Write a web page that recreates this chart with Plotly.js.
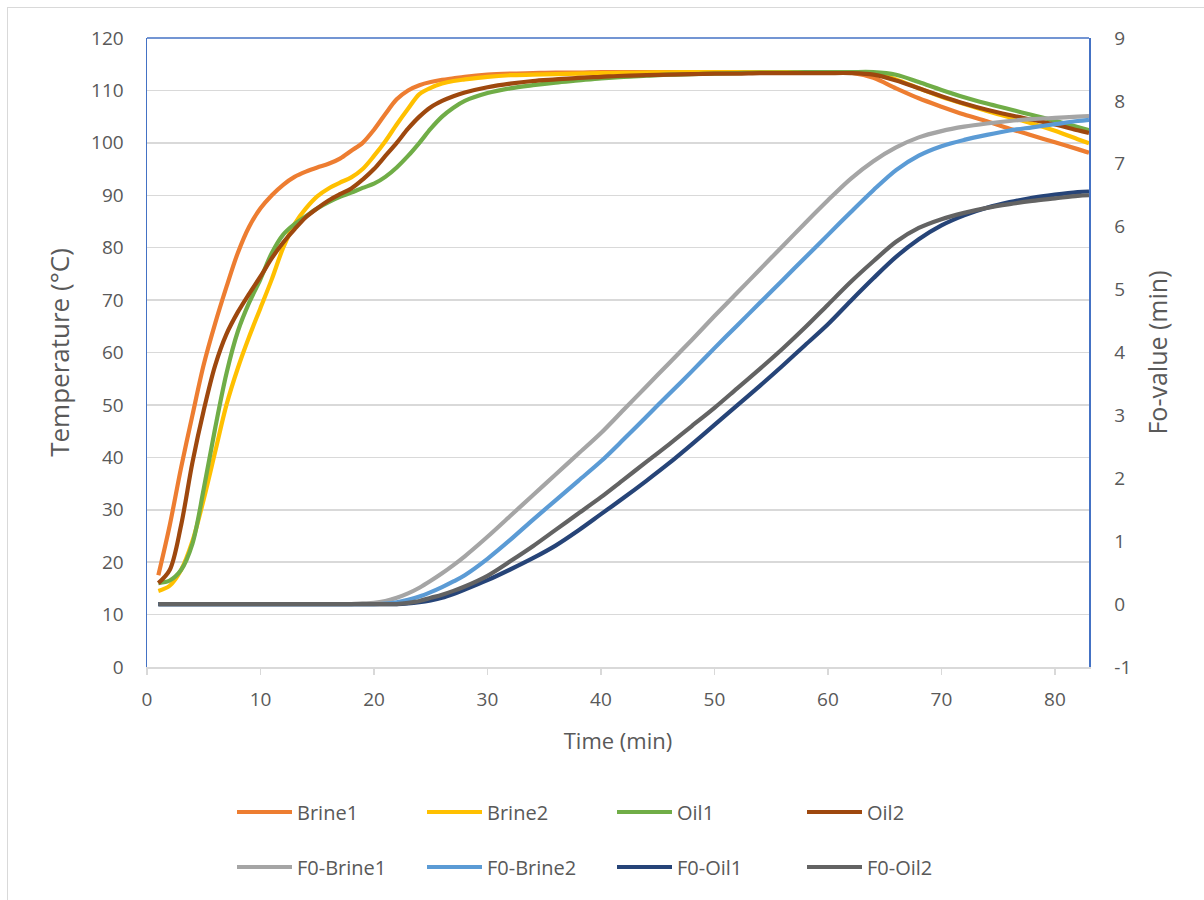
<!DOCTYPE html>
<html>
<head>
<meta charset="utf-8">
<script src="https://cdn.plot.ly/plotly-3.0.1.min.js"></script>
<style>
  html, body { margin: 0; padding: 0; background: #fff; overflow: hidden; }
  #chart { position: absolute; left: 0; top: 0; width: 1204px; height: 900px; }
  #frame { position: absolute; left: 7px; top: 7px; width: 1300px; height: 1000px;
           border-left: 1.5px solid #d9d9d9; border-top: 1.5px solid #d9d9d9; pointer-events: none; }
</style>
</head>
<body>
<div id="chart"></div>
<div id="frame"></div>
<script>
// Time (min)
const time = [1,2,3,4,5,6,7,8,9,10,11,12,13,14,15,16,17,18,19,20,21,22,23,24,25,26,27,28,
              30,32,34,36,38,40,42,44,46,48,50,52,54,56,58,60,62,64,66,68,70,72,74,76,78,80,82,83];

// Temperature (°C), left axis
const brine1 = [17.5,27,38,48,57.7,65.5,72.5,79,84,87.5,90,92,93.5,94.5,95.3,96,97,98.5,100,102.5,105.5,108.3,110,111,111.6,112,112.3,112.6,
                113.0,113.2,113.3,113.4,113.4,113.5,113.5,113.5,113.5,113.5,113.5,113.5,113.5,113.5,113.5,113.5,113.4,112.4,110.4,108.5,106.9,105.4,104.1,102.7,101.4,100.1,98.8,98.1];
const brine2 = [14.5,15.5,18.5,24,32,41,50,57,63,68.5,74,80,84.5,87.5,89.8,91.3,92.4,93.4,95,97.5,100.3,103.5,106.5,109.3,110.5,111.3,111.8,112.1,
                112.6,112.9,113.0,113.1,113.2,113.3,113.35,113.4,113.45,113.5,113.5,113.5,113.5,113.5,113.5,113.5,113.5,113.3,112.1,110.4,108.8,107.4,106.1,104.9,103.7,102.3,100.7,99.9];
const oil1   = [16,16.5,18.5,23.5,34,45.5,56,64,69.5,74,79,82.5,84.5,86,87.5,88.7,89.7,90.5,91.4,92.2,93.5,95.3,97.5,100,102.7,105,106.7,108,
                109.5,110.4,111.0,111.5,111.9,112.3,112.6,112.8,113.0,113.1,113.2,113.3,113.4,113.4,113.5,113.5,113.5,113.5,113.0,111.6,110.1,108.7,107.5,106.4,105.3,104.2,103.0,102.4];
const oil2   = [16,18.5,27,39,49,57.5,63.5,67.7,71.2,74.5,78,81,83.5,85.8,87.5,89,90.2,91.3,93,95,97.5,100,102.7,105,106.8,108,108.9,109.6,
                110.6,111.3,111.8,112.1,112.4,112.6,112.8,112.9,113.0,113.1,113.2,113.2,113.3,113.3,113.3,113.3,113.3,113.0,111.9,110.4,108.9,107.5,106.3,105.3,104.4,103.5,102.4,101.9];

// Fo-value (min), right axis
const f0Brine1 = [0,0,0,0,0,0,0,0,0,0,0,0,0,0,0,0,0,0,0.01,0.02,0.05,0.1,0.17,0.26,0.37,0.49,0.62,0.76,
                  1.07,1.4,1.73,2.06,2.39,2.72,3.09,3.46,3.83,4.2,4.58,4.95,5.32,5.69,6.06,6.42,6.76,7.04,7.26,7.42,7.52,7.59,7.64,7.68,7.71,7.73,7.75,7.76];
const f0Brine2 = [0,0,0,0,0,0,0,0,0,0,0,0,0,0,0,0,0,0,0,0,0.01,0.03,0.07,0.12,0.19,0.27,0.36,0.46,
                  0.72,1.02,1.34,1.65,1.96,2.27,2.62,2.98,3.34,3.7,4.07,4.43,4.79,5.15,5.51,5.87,6.23,6.58,6.9,7.13,7.28,7.38,7.46,7.53,7.58,7.63,7.68,7.7];
const f0Oil1   = [0,0,0,0,0,0,0,0,0,0,0,0,0,0,0,0,0,0,0,0,0,0,0.01,0.03,0.06,0.1,0.16,0.23,
                  0.38,0.55,0.73,0.93,1.17,1.43,1.69,1.96,2.24,2.54,2.85,3.16,3.47,3.79,4.12,4.45,4.82,5.18,5.52,5.8,6.02,6.18,6.3,6.39,6.46,6.51,6.55,6.56];
const f0Oil2   = [0,0,0,0,0,0,0,0,0,0,0,0,0,0,0,0,0,0,0,0,0,0,0.02,0.05,0.1,0.15,0.21,0.28,
                  0.45,0.68,0.92,1.18,1.44,1.7,1.98,2.26,2.54,2.83,3.12,3.43,3.74,4.06,4.4,4.76,5.12,5.45,5.76,5.98,6.12,6.22,6.3,6.36,6.41,6.45,6.49,6.5];

const names = ['Brine1','Brine2','Oil1','Oil2','F0-Brine1','F0-Brine2','F0-Oil1','F0-Oil2'];
const series = [brine1, brine2, oil1, oil2, f0Brine1, f0Brine2, f0Oil1, f0Oil2];
const colors = ['#ED7D31','#FFC000','#70AD47','#9E480E','#A5A5A5','#5B9BD5','#264478','#636363'];

// Right-axis tick labels
const foTickVals = [-1,0,1,2,3,4,5,6,7,8,9];
const foTickText = ['-1','0','1','2','3','4','5','6','7','8','9'];

const traces = series.map((ys, i) => ({
  x: time, y: ys, name: names[i], type: 'scatter', mode: 'lines',
  line: { color: colors[i], width: 4.2, shape: 'spline', smoothing: 0.9 },
  yaxis: i < 4 ? 'y' : 'y2',
  legend: i < 4 ? 'legend' : 'legend2',
  hoverinfo: 'skip'
}));

const txt = '#595959';
const fam = 'Open Sans, sans-serif';
const legendCommon = {
  orientation: 'h', xref: 'container', yref: 'container',
  x: 232/1204, xanchor: 'left', yanchor: 'middle',
  itemwidth: 55,
  entrywidth: 120, entrywidthmode: 'pixels',
  font: { family: fam, size: 20, color: txt },
  bgcolor: 'rgba(0,0,0,0)', borderwidth: 0, itemclick: false, itemdoubleclick: false
};

const layout = {
  width: 1204, height: 900,
  margin: { l: 147, r: 115, t: 38, b: 233, pad: 0 },
  paper_bgcolor: 'rgba(0,0,0,0)', plot_bgcolor: '#ffffff',
  font: { family: fam, color: txt },
  showlegend: true,
  xaxis: {
    range: [0, 83], tick0: 0, dtick: 10, showgrid: false, zeroline: false,
    showline: true, linecolor: '#d9d9d9', linewidth: 1.5,
    ticks: 'outside', ticklen: 6, tickwidth: 1.5, tickcolor: '#d9d9d9',
    tickfont: { family: fam, size: 19, color: txt }, ticklabelstandoff: 9,
    title: { text: 'Time (min)', font: { family: fam, size: 22, color: txt }, standoff: 22 }
  },
  yaxis: {
    range: [0, 120], tick0: 0, dtick: 10, showgrid: true, gridcolor: '#d9d9d9', gridwidth: 1.5,
    zeroline: false, showline: true, linecolor: '#4472C4', linewidth: 1.5,
    ticks: '', tickfont: { family: fam, size: 19, color: txt }, ticklabelstandoff: 18,
    title: { text: 'Temperature (°C)', font: { family: fam, size: 26, color: txt }, standoff: 14 }
  },
  yaxis2: {
    overlaying: 'y', side: 'right', range: [-1, 9], tickmode: 'array',
    tickvals: foTickVals, ticktext: foTickText,
    showgrid: false, zeroline: false, showline: true, linecolor: '#4472C4', linewidth: 1.5,
    ticks: '', tickfont: { family: fam, size: 19, color: txt }, ticklabelstandoff: 20,
    title: { text: 'Fo-value (min)', font: { family: fam, size: 25, color: txt }, standoff: 19 }
  },
  shapes: [
    { type: 'line', xref: 'paper', yref: 'paper', x0: 0, x1: 1, y0: 1, y1: 1,
      line: { color: '#4472C4', width: 1.5 } }
  ],
  legend: Object.assign({}, legendCommon, { y: 1 - 812/900 }),
  legend2: Object.assign({}, legendCommon, { y: 1 - 867/900 })
};

Plotly.newPlot('chart', traces, layout, { displayModeBar: false, staticPlot: true });
</script>
</body>
</html>
